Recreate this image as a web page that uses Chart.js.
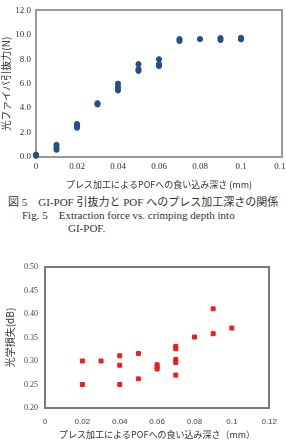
<!DOCTYPE html>
<html><head><meta charset="utf-8">
<script src="https://cdn.jsdelivr.net/npm/chart.js@4"></script>
<style>
html,body{margin:0;padding:0;background:#fff;overflow:hidden;width:286px;height:441px;position:relative;}
.wrap{position:absolute;left:0;}
#w1{top:0;width:300px;height:192px;}
#w2{top:254px;width:286px;height:187px;}
.cap{position:absolute;font-family:"Liberation Serif","Noto Sans CJK JP",serif;font-size:11px;color:#333;white-space:nowrap;line-height:1;}
</style></head>
<body>
<div class="wrap" id="w1"><canvas id="pull"></canvas></div>
<div class="cap" style="left:8px;top:197px;">図 5　GI-POF 引抜力と POF へのプレス加工深さの関係</div>
<div class="cap" style="left:22px;top:210px;">Fig. 5　Extraction force vs. crimping depth into</div>
<div class="cap" style="left:68px;top:223px;">GI-POF.</div>
<div class="wrap" id="w2"><canvas id="loss"></canvas></div>
<script>
// ====== 図5: 引抜力 ======
const depthPull = [0, 0, 0, 0.01, 0.01, 0.01, 0.02, 0.02, 0.02, 0.03, 0.03, 0.04, 0.04, 0.04,
                   0.05, 0.05, 0.05, 0.06, 0.06, 0.06, 0.07, 0.07, 0.08, 0.09, 0.09, 0.1, 0.1];
const force     = [0.1, 0.15, 0.2, 0.6, 0.8, 1.0, 2.4, 2.55, 2.7, 4.3, 4.4, 5.45, 5.7, 6.0,
                   7.05, 7.2, 7.6, 7.45, 7.6, 8.0, 9.5, 9.65, 9.65, 9.58, 9.73, 9.63, 9.76];
// ====== 光学損失 ======
const depthLoss = [0.02, 0.02, 0.03, 0.04, 0.04, 0.04, 0.05, 0.05, 0.06, 0.06, 0.06,
                   0.07, 0.07, 0.07, 0.07, 0.07, 0.08, 0.09, 0.09, 0.1];
const loss      = [0.30, 0.25, 0.30, 0.311, 0.291, 0.25, 0.316, 0.262, 0.292, 0.287, 0.283,
                   0.331, 0.326, 0.303, 0.297, 0.27, 0.351, 0.411, 0.358, 0.37];
const xTicks = [0, 0.02, 0.04, 0.06, 0.08, 0.1, 0.12];

const JP = '"Noto Sans CJK JP", sans-serif';
const SERIF = '"Liberation Serif", serif';
const SANS = '"Liberation Sans", Arial, sans-serif';

const pts = (xs, ys) => xs.map((x, i) => ({ x, y: ys[i] }));
const fmtX = v => String(Number(v.toFixed(2)));
const noGrid = { display: false, drawTicks: false, tickLength: 0 };

// marco alrededor del área de trazado
const frame = (color, w) => ({
  id: 'frame',
  beforeDatasetsDraw(c){
    const a = c.chartArea, g = c.ctx;
    g.save(); g.strokeStyle = color; g.lineWidth = w;
    g.strokeRect(Math.round(a.left), Math.round(a.top), Math.round(a.right - a.left), Math.round(a.bottom - a.top));
    g.restore();
  }
});

Chart.defaults.animation = false;

new Chart(document.getElementById('pull'), {
  type: 'scatter',
  data: { datasets: [{ data: pts(depthPull, force), clip: false, backgroundColor: '#24508a', borderColor: '#24508a', pointRadius: 2.6, pointHoverRadius: 2.6 }] },
  options: {
    responsive: true, maintainAspectRatio: false,
    layout: { padding: { top: 9, right: 18, left: 0, bottom: 0 } },
    plugins: { legend: { display: false }, tooltip: { enabled: false } },
    scales: {
      x: { type: 'linear', min: 0, max: 0.12,
           afterBuildTicks: s => { s.ticks = xTicks.map(v => ({ value: v })); },
           afterFit: s => { s.height = 35; },
           grid: noGrid, border: { display: false },
           ticks: { color: '#333', padding: 4, font: { family: SERIF, size: 9 }, callback: fmtX, maxRotation: 0 },
           title: { display: true, text: 'プレス加工によるPOFへの食い込み深さ (mm)', color: '#333', font: { family: JP, size: 9 }, padding: { top: 6, bottom: 2 } } },
      y: { min: 0, max: 12,
           afterFit: s => { s.width = 36; },
           grid: noGrid, border: { display: false },
           ticks: { stepSize: 2, color: '#333', padding: 5, font: { family: SERIF, size: 9 }, callback: v => v.toFixed(1) },
           title: { display: true, text: '光ファイバ引抜力(N)', color: '#333', font: { family: JP, size: 10 }, padding: 0 } }
    }
  },
  plugins: [frame('#999999', 2)]
});

new Chart(document.getElementById('loss'), {
  type: 'scatter',
  data: { datasets: [{ data: pts(depthLoss, loss), pointStyle: 'rect', backgroundColor: '#ee1c1c', borderColor: '#ee1c1c', pointRadius: 2.8, pointHoverRadius: 2.8 }] },
  options: {
    responsive: true, maintainAspectRatio: false,
    layout: { padding: { top: 13, right: 11, left: 0, bottom: 0 } },
    plugins: { legend: { display: false }, tooltip: { enabled: false } },
    scales: {
      x: { type: 'linear', min: 0, max: 0.12,
           afterBuildTicks: s => { s.ticks = xTicks.map(v => ({ value: v })); },
           afterFit: s => { s.height = 33; },
           grid: noGrid, border: { display: false },
           ticks: { color: '#444', padding: 9, font: { family: SANS, size: 8 }, callback: fmtX, maxRotation: 0 },
           title: { display: true, text: 'プレス加工によるPOFへの食い込み深さ（mm）', color: '#333', font: { family: JP, size: 9 }, padding: { top: 2, bottom: 1 } } },
      y: { min: 0.2, max: 0.5,
           afterFit: s => { s.width = 45; },
           grid: noGrid, border: { display: false },
           ticks: { stepSize: 0.05, color: '#444', padding: 7, font: { family: SERIF, size: 8 }, callback: v => v.toFixed(2) },
           title: { display: true, text: '光学損失(dB)', color: '#333', font: { family: JP, size: 10 }, padding: { bottom: 2 } } }
    }
  },
  plugins: [frame('#7a7a7a', 2)]
});
</script>
</body></html>
